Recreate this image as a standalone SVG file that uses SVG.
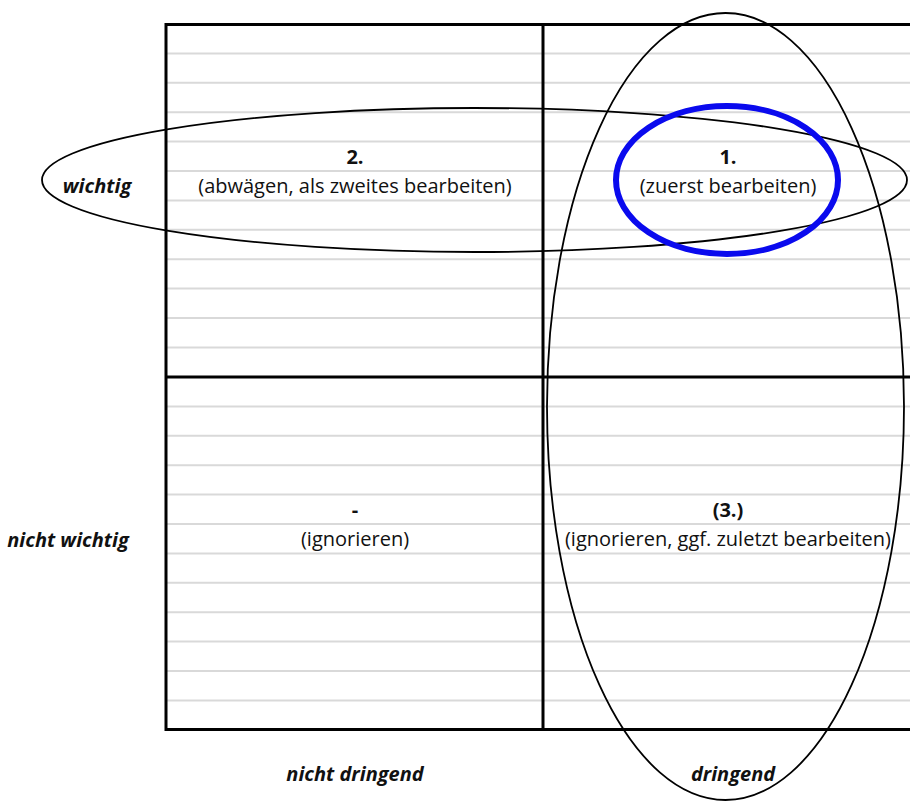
<svg xmlns="http://www.w3.org/2000/svg" width="910" height="801" viewBox="0 0 910 801">
<style>
.rule{stroke:#d9d9d9;stroke-width:2}
.grid{stroke:#000;stroke-width:3;fill:none}
.ell{fill:none;stroke:#000;stroke-width:1.8}
.t{font-family:"Open Sans","Liberation Sans",sans-serif;font-size:20px;fill:#111;text-anchor:middle}
.b{font-weight:bold}
.ax{font-family:"Open Sans","Liberation Sans",sans-serif;font-size:20px;font-weight:bold;font-style:italic;fill:#111;text-anchor:middle}
</style>
<rect width="910" height="801" fill="#fff"/>
<g id="rules">
<line class="rule" x1="166" y1="53.4" x2="910" y2="53.4"/>
<line class="rule" x1="166" y1="82.8" x2="910" y2="82.8"/>
<line class="rule" x1="166" y1="112.2" x2="910" y2="112.2"/>
<line class="rule" x1="166" y1="141.6" x2="910" y2="141.6"/>
<line class="rule" x1="166" y1="171" x2="910" y2="171"/>
<line class="rule" x1="166" y1="200.4" x2="910" y2="200.4"/>
<line class="rule" x1="166" y1="229.8" x2="910" y2="229.8"/>
<line class="rule" x1="166" y1="259.2" x2="910" y2="259.2"/>
<line class="rule" x1="166" y1="288.6" x2="910" y2="288.6"/>
<line class="rule" x1="166" y1="318" x2="910" y2="318"/>
<line class="rule" x1="166" y1="347.4" x2="910" y2="347.4"/>
<line class="rule" x1="166" y1="406.4" x2="910" y2="406.4"/>
<line class="rule" x1="166" y1="435.8" x2="910" y2="435.8"/>
<line class="rule" x1="166" y1="465.2" x2="910" y2="465.2"/>
<line class="rule" x1="166" y1="494.6" x2="910" y2="494.6"/>
<line class="rule" x1="166" y1="524" x2="910" y2="524"/>
<line class="rule" x1="166" y1="553.4" x2="910" y2="553.4"/>
<line class="rule" x1="166" y1="582.8" x2="910" y2="582.8"/>
<line class="rule" x1="166" y1="612.2" x2="910" y2="612.2"/>
<line class="rule" x1="166" y1="641.6" x2="910" y2="641.6"/>
<line class="rule" x1="166" y1="671" x2="910" y2="671"/>
<line class="rule" x1="166" y1="700.4" x2="910" y2="700.4"/>
</g>
<g id="grid">
<path class="grid" d="M912 24.5H166V729.5H912M166 377H912M543 24.5V729.5"/>
</g>
<g id="q2">
<text class="t b" x="355" y="164">2.</text>
<text class="t" x="355" y="193">(abwägen, als zweites bearbeiten)</text>
</g>
<g id="q1">
<text class="t b" x="728" y="164">1.</text>
<text class="t" x="728" y="193">(zuerst bearbeiten)</text>
</g>
<g id="q4">
<text class="t b" x="355" y="517">-</text>
<text class="t" x="355" y="546">(ignorieren)</text>
</g>
<g id="q3">
<text class="t b" x="728" y="517">(3.)</text>
<text class="t" x="728" y="546">(ignorieren, ggf. zuletzt bearbeiten)</text>
</g>
<g id="labels">
<text class="ax" x="97" y="193">wichtig</text>
<text class="ax" x="68" y="547">nicht wichtig</text>
<text class="ax" x="355" y="781">nicht dringend</text>
<text class="ax" x="733" y="781">dringend</text>
</g>
<g id="ellipses">
<ellipse class="ell" cx="474.5" cy="180" rx="432.5" ry="72"/>
<ellipse class="ell" cx="725.5" cy="406.5" rx="178.5" ry="393.5"/>
<ellipse cx="727" cy="180" rx="111" ry="74" fill="none" stroke="#0a0aee" stroke-width="6"/>
</g>
</svg>
